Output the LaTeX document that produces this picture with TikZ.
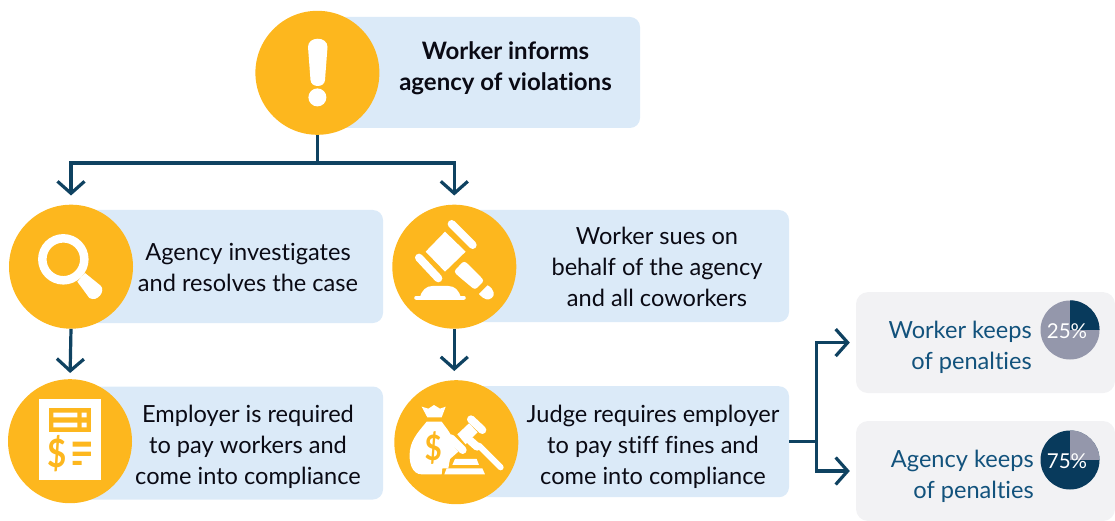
\documentclass[tikz,border=0pt]{standalone}
\usepackage{fontspec}
\setmainfont[Ligatures=NoCommon]{Lato}
\usetikzlibrary{arrows.meta}
\definecolor{amber}{HTML}{FDB71E}
\definecolor{palebox}{HTML}{DBEAF8}
\definecolor{greybox}{HTML}{F2F2F4}
\definecolor{navy}{HTML}{0F4261}
\definecolor{piedark}{HTML}{083A5C}
\definecolor{piegrey}{HTML}{9497AB}
\definecolor{bluetext}{HTML}{12527C}
\definecolor{ink}{HTML}{0A0A14}
\tikzset{
  bluebox/.style={fill=palebox,rounded corners=10pt,inner sep=0pt},
  greyrect/.style={fill=greybox,rounded corners=12pt,inner sep=0pt},
  disc/.style={circle,fill=amber,inner sep=0pt,minimum size=124pt},
  flow/.style={draw=navy,line width=3.2pt,-{Straight Barb[length=12pt,width=27pt,line width=3.2pt]}},
  plain/.style={draw=navy,line width=3.2pt},
  caption/.style={font=\fontsize{23.6}{31}\selectfont,text=ink,align=center,inner sep=0pt},
  bluecaption/.style={font=\fontsize{23.6}{31}\selectfont,text=bluetext,align=right,inner sep=0pt,anchor=east},
  piedisc/.style={circle,fill=piegrey,inner sep=0pt,minimum size=59pt},
  pielabel/.style={font=\fontsize{20.5}{20.5}\selectfont,text=white,inner sep=0pt},
  iconline/.style={draw=white,line cap=round},
  money/.style={font=\bfseries\fontsize{#1}{#1}\selectfont,text=amber,inner sep=0pt,xscale=0.85,transform shape}
}
\begin{document}
\begin{tikzpicture}[x=1pt,y=-1pt]
\useasboundingbox (0,0) rectangle (1115,521);
% boxes
\node[bluebox,minimum width=322pt,minimum height=111pt] (b0) at (479,72.5) {};
\node[bluebox,minimum width=312pt,minimum height=113pt] (b1) at (227,266.5) {};
\node[bluebox,minimum width=313pt,minimum height=113pt] (b2) at (226.5,443) {};
\node[bluebox,minimum width=335pt,minimum height=112pt] (b3) at (621.5,266) {};
\node[bluebox,minimum width=332pt,minimum height=111pt] (b4) at (623,441.7) {};
\node[greyrect,minimum width=259pt,minimum height=101pt] (g1) at (985.5,342.6) {};
\node[greyrect,minimum width=259pt,minimum height=100pt] (g2) at (985.5,471) {};
% discs
\node[disc] (c0) at (317.4,72.8) {};
\node[disc] (c1) at (71,266.7) {};
\node[disc] (c2) at (70,441.2) {};
\node[disc] (c3) at (454.3,266.7) {};
\node[disc] (c4) at (456.3,442.2) {};
% connectors
\coordinate (j0) at (317.4,163);
\coordinate (j1) at (816.7,441.7);
\draw[plain] (c0.south) -- (j0);
\draw[flow,shorten >=9pt] (j0) -| (c1.north);
\draw[flow,shorten >=9pt] (j0) -| (c3.north);
\draw[flow,shorten >=6pt] (c1.south) -- (c2.north);
\draw[flow,shorten >=9pt] (c3.south) -- (c3.south |- c4.north);
\draw[plain] (b4.east) -- (j1);
\draw[flow,shorten >=6pt] (j1) |- (g1.west);
\draw[flow,shorten >=6pt] (j1) |- (g2.west);
% captions
\node[caption,font=\bfseries\fontsize{24}{31}\selectfont] (t0) at (505.5,68.5) {Worker informs\\agency of violations};
\node[caption] (t1) at (248,267.5) {Agency investigates\\and resolves the case};
\node[caption] (t2) at (248,447) {Employer is required\\to pay workers and\\come into compliance};
\node[caption] (t3) at (657,267) {Worker sues on\\behalf of the agency\\and all coworkers};
\node[caption] (t4) at (653,447) {Judge requires employer\\to pay stiff fines and\\come into compliance};
\node[bluecaption] (t5) at (1032,347.5) {Worker keeps\\of penalties};
\node[bluecaption] (t6) at (1034,476.5) {Agency keeps\\of penalties};
% pies
\node[piedisc] (p1) at (1070,330) {};
\fill[piedark] (p1.center) -- (p1.north) arc[start angle=90,end angle=0,radius=29.5pt] -- cycle;
\node[pielabel] (pl1) at (1067,331) {25\%};
\node[piedisc,fill=piedark] (p2) at (1070,460) {};
\fill[piegrey] (p2.center) -- (p2.north) arc[start angle=90,end angle=0,radius=29.5pt] -- cycle;
\node[pielabel] (pl2) at (1067,461) {75\%};
% exclamation icon
\fill[white] (308,47) .. controls (308,36) and (327.5,36) .. (327.5,47) -- (325,80) .. controls (324.5,88) and (311,88) .. (310.5,80) -- cycle;
\fill[white] (317.4,97.4) circle[radius=9];
% magnifier and document icons
\begin{scope}[shift={(0,190)},x=0.3333pt,y=-0.3333pt]
\draw[white,line width=8.5pt] (190,208) circle[radius=63];
\fill[white] (232,275) -- (255,249) -- (302,287) .. controls (318,303) and (292,338) .. (268,324) -- cycle;
\fill[white] (118,627) rectangle (302,870);
\fill[amber] (146,655) rectangle (273,727);
\fill[white] (160,668) rectangle (232,682) (160,698) rectangle (232,712) (245,668) rectangle (260,682) (245,698) rectangle (260,712);
\fill[amber] (218,755) rectangle (273,770) (218,785) rectangle (273,798) (218,813) rectangle (245,825);
\node[money=39] (d1) at (170,790) {\$};
\end{scope}
% gavel icon
\begin{scope}[shift={(395,210)},x=0.3333pt,y=-0.3333pt]
\draw[iconline,line width=8pt] (170,42) -- (233,105);
\draw[iconline,line width=8pt] (72,143) -- (130,205);
\fill[white] (92,125) -- (150,65) -- (212,125) -- (150,185) -- cycle;
\fill[white,rounded corners=3pt] (176,185) -- (207,152) -- (222,165) -- (268,212) -- (240,240) -- (192,200) -- cycle;
\fill[white] (252,252) -- (278,226) .. controls (300,238) and (300,258) .. (290,264) .. controls (280,272) and (268,270) .. cycle;
\draw[iconline,line width=4.2pt] (64,263) -- (206,263);
\fill[white] (75,262) .. controls (80,240) and (95,228) .. (112,228) -- (160,228) .. controls (180,228) and (192,242) .. (198,262) -- cycle;
\end{scope}
% money bag and gavel icon
\begin{scope}[shift={(395,385)},x=0.3333pt,y=-0.3333pt]
\fill[white] (80,65) -- (100,71) -- (117,60) -- (135,71) -- (152,65) -- (140,97) -- (97,97) -- cycle;
\fill[white] (95,110) -- (140,110) .. controls (150,125) and (165,140) .. (172,160) -- (163,168) -- (190,200) -- (165,222) -- (160,250) -- (142,250) -- (140,268) -- (80,268) .. controls (50,268) and (40,230) .. (45,195) .. controls (50,160) and (75,135) .. (95,110) -- cycle;
\node[money=35] (d2) at (115,190) {\$};
\draw[iconline,line width=8pt] (228,103) -- (262,135);
\draw[iconline,line width=8pt] (168,160) -- (203,195);
\draw[iconline,line width=8pt] (226,167) -- (246,185);
\fill[white] (187,148) -- (222,115) -- (248,142) -- (212,178) -- cycle;
\draw[iconline,line width=6pt] (252,182) -- (317,247);
\fill[white] (172,240) -- (180,222) -- (245,222) -- (252,240) -- cycle;
\fill[white] (148,268) -- (155,250) -- (262,250) -- (270,268) -- cycle;
\end{scope}
\end{tikzpicture}
\end{document}
